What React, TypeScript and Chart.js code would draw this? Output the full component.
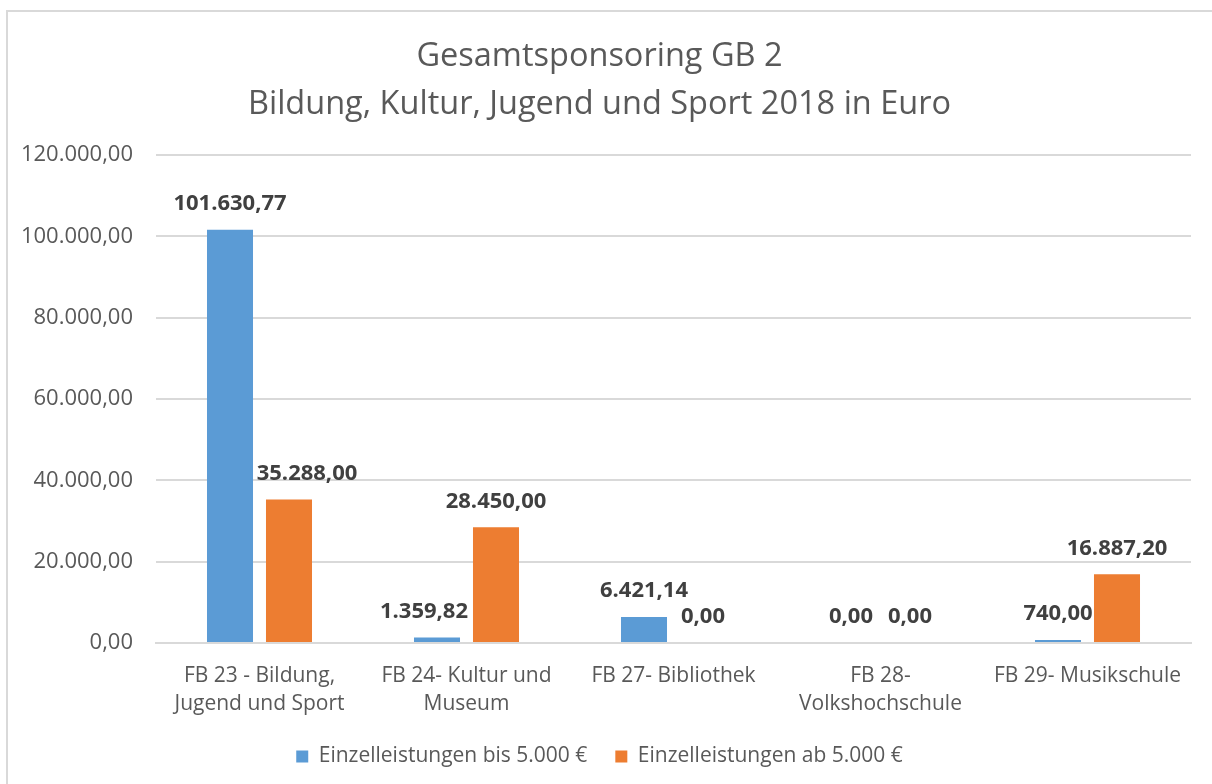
import React, { useEffect, useRef } from 'react';
import { Chart, registerables } from 'chart.js';

Chart.register(...registerables);

const titleLines = ['Gesamtsponsoring GB 2', 'Bildung, Kultur, Jugend und Sport 2018 in Euro'];
const categories: (string | string[])[] = [
  ['FB 23 - Bildung,', 'Jugend und Sport'],
  ['FB 24- Kultur und', 'Museum'],
  'FB 27- Bibliothek',
  ['FB 28-', 'Volkshochschule'],
  'FB 29- Musikschule',
];
const seriesNames = ['Einzelleistungen bis 5.000 €', 'Einzelleistungen ab 5.000 €'];
const smallValues = [101630.77, 1359.82, 6421.14, 0, 740];
const largeValues = [35288, 28450, 0, 0, 16887.2];
const yMin = 0;
const yMax = 120000;
const yStep = 20000;

// label nudges (styling only)
const labelShiftX = [
  [0, -13, 0, 0, 0],
  [18, 0, 0, 0, 0],
];

const BLUE = '#5B9BD5';
const ORANGE = '#ED7D31';
const TEXT = '#595959';
const GRID = '#D9D9D9';
const FONT = "'Open Sans', 'Noto Sans', sans-serif";

function fmt(v: number): string {
  const fixed = Math.abs(v).toFixed(2);
  const [i, d] = fixed.split('.');
  return (v < 0 ? '-' : '') + i.replace(/\B(?=(\d{3})+(?!\d))/g, '.') + ',' + d;
}

const valueLabels = {
  id: 'valueLabels',
  afterDatasetsDraw(chart: any) {
    const ctx = chart.ctx;
    ctx.save();
    ctx.font = `bold 22px ${FONT}`;
    ctx.fillStyle = '#404040';
    ctx.textAlign = 'center';
    ctx.textBaseline = 'middle';
    chart.data.datasets.forEach((ds: any, di: number) => {
      const meta = chart.getDatasetMeta(di);
      meta.data.forEach((el: any, i: number) => {
        const v = ds.data[i] as number;
        ctx.fillText(fmt(v), el.x + labelShiftX[di][i], el.y - 26);
      });
    });
    ctx.restore();
  },
};

export default function App() {
  const ref = useRef<HTMLCanvasElement | null>(null);
  useEffect(() => {
    if (!ref.current) return;
    const chart = new Chart(ref.current, {
      type: 'bar',
      data: {
        labels: categories as any,
        datasets: [
          { label: seriesNames[0], data: smallValues, backgroundColor: BLUE, barPercentage: 0.78, categoryPercentage: 0.57 },
          { label: seriesNames[1], data: largeValues, backgroundColor: ORANGE, barPercentage: 0.78, categoryPercentage: 0.57 },
        ],
      },
      options: {
        animation: false,
        responsive: false,
        layout: { padding: { left: 0, right: 21, top: 0, bottom: 7 } },
        plugins: {
          title: {
            display: true,
            text: titleLines,
            color: TEXT,
            font: { family: FONT, size: 32.5, weight: 'normal', lineHeight: 48 / 32.5 },
            padding: { top: 21, bottom: 26 },
          },
          legend: {
            position: 'bottom',
            labels: {
              color: TEXT,
              font: { family: FONT, size: 21 },
              boxWidth: 12,
              boxHeight: 12,
              padding: 28,
            },
          },
          tooltip: { enabled: false },
        },
        scales: {
          x: {
            grid: { display: false, drawTicks: false },
            border: { display: true, color: GRID, width: 2 },
            ticks: { color: TEXT, font: { family: FONT, size: 21, lineHeight: 28 / 21 }, padding: 19, maxRotation: 0, autoSkip: false },
            afterFit: (s: any) => { s.height = 75; },
          },
          y: {
            min: yMin,
            max: yMax,
            ticks: { stepSize: yStep, color: TEXT, font: { family: FONT, size: 22 }, padding: 23, callback: (v: any) => fmt(Number(v)) },
            grid: { color: GRID, lineWidth: 2, drawTicks: false },
            border: { display: false },
            afterFit: (s: any) => { s.width = 148; },
          },
        },
      },
      plugins: [valueLabels],
    });
    return () => chart.destroy();
  }, []);
  return (
    <div style={{ position: 'fixed', left: 6, top: 10, width: 1206, height: 774, borderLeft: `2px solid ${GRID}`, borderTop: `2px solid ${GRID}`, background: '#fff', overflow: 'hidden' }}>
      <canvas ref={ref} width={1204} height={772} style={{ display: 'block' }} />
    </div>
  );
}
